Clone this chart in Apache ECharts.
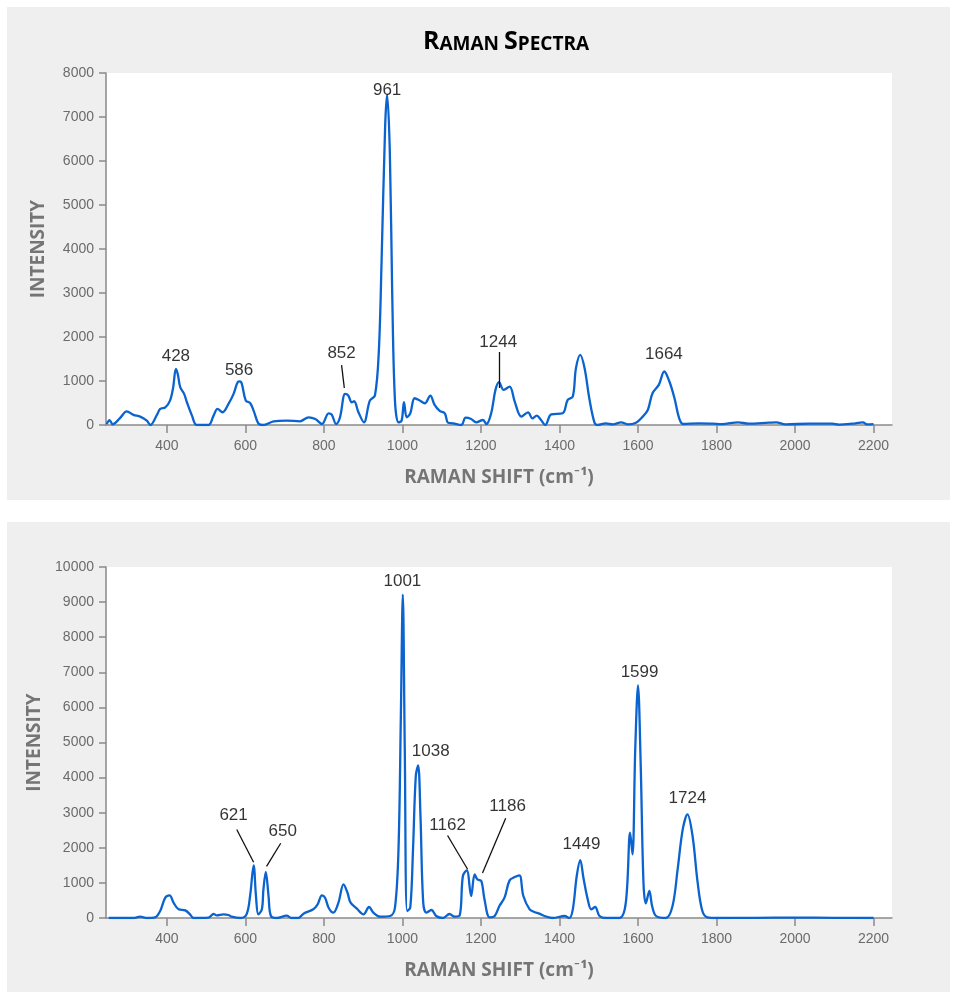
<!DOCTYPE html>
<html>
<head>
<meta charset="utf-8">
<title>Raman Spectra</title>
<script src="https://cdn.jsdelivr.net/npm/echarts@6/dist/echarts.min.js"></script>
<style>
  html, body { margin: 0; padding: 0; background: #fff; }
  #chart { width: 953px; height: 992px; }
</style>
</head>
<body>
<div id="chart"></div>
<script>
// top spectrum
const shiftTop = [247, 254, 262, 280, 298, 315, 332, 349, 358, 375, 383, 396, 408, 416, 423, 428, 434, 444, 451, 464,
  476, 506, 519, 529, 542, 557, 570, 581, 586, 591, 601, 612, 621, 633, 645, 672, 705, 739, 761, 778,
  795, 812, 820, 831, 841, 854, 862, 871, 877, 888, 902, 917, 930, 940, 947, 956, 961, 968, 974, 981,
  990, 998, 1004, 1011, 1020, 1031, 1042, 1057, 1071, 1082, 1095, 1108, 1116, 1129, 1150, 1161, 1175, 1188, 1205, 1214,
  1226, 1237, 1246, 1258, 1273, 1286, 1303, 1320, 1331, 1342, 1353, 1364, 1379, 1408, 1421, 1434, 1442, 1453, 1464, 1476,
  1489, 1497, 1518, 1536, 1557, 1574, 1595, 1612, 1625, 1637, 1653, 1667, 1680, 1693, 1705, 1715, 1756, 1790, 1814, 1855,
  1882, 1933, 1952, 1976, 2036, 2095, 2112, 2146, 2173, 2183, 2200];
const intensityTop = [20, 110, 15, 150, 310, 230, 190, 100, 0, 235, 365, 400, 555, 850, 1277, 1150, 860, 707, 517, 213,
  0, 0, 213, 365, 290, 480, 707, 980, 990, 935, 555, 500, 327, 38, 0, 84, 100, 84, 175, 137,
  23, 266, 235, 23, 175, 707, 670, 517, 540, 290, 60, 555, 670, 1695, 3750, 6790, 7510, 6180, 2990, 555,
  60, 100, 517, 175, 265, 608, 570, 494, 669, 456, 319, 266, 53, 38, 0, 167, 137, 61, 114, 23,
  266, 798, 973, 798, 874, 532, 190, 289, 152, 213, 114, 0, 243, 266, 570, 646, 1292, 1596, 1292, 608,
  61, 0, 38, 15, 61, 15, 53, 190, 342, 722, 912, 1216, 988, 608, 152, 23, 38, 30, 20, 61,
  30, 53, 61, 15, 30, 30, 8, 30, 61, 15, 20];

// bottom spectrum
const shiftBottom = [252, 281, 315, 332, 349, 370, 383, 396, 407, 417, 430, 447, 459, 468, 506, 519, 527, 544, 557, 565,
  587, 603, 612, 621, 627, 633, 642, 646, 652, 659, 665, 680, 705, 718, 735, 748, 773, 784, 795, 803,
  812, 824, 837, 850, 860, 868, 884, 901, 915, 926, 943, 969, 981, 990, 996, 1001, 1006, 1012, 1020, 1027,
  1034, 1040, 1046, 1053, 1061, 1074, 1086, 1103, 1120, 1133, 1146, 1154, 1164, 1175, 1184, 1191, 1201, 1209, 1222, 1235,
  1247, 1260, 1273, 1286, 1298, 1308, 1324, 1336, 1349, 1362, 1383, 1413, 1425, 1434, 1444, 1453, 1461, 1472, 1481, 1491,
  1502, 1519, 1553, 1569, 1580, 1586, 1593, 1600, 1607, 1614, 1620, 1629, 1636, 1646, 1671, 1688, 1701, 1714, 1726, 1739,
  1752, 1764, 1777, 1800, 1900, 2000, 2100, 2200];
const intensityBottom = [0, 0, 0, 38, 0, 19, 200, 579, 645, 437, 247, 218, 104, 0, 10, 114, 76, 104, 85, 38,
  0, 104, 626, 1500, 626, 104, 247, 816, 1310, 626, 57, 0, 66, 0, 0, 123, 247, 389, 645, 579,
  294, 152, 437, 958, 721, 437, 266, 104, 313, 152, 38, 57, 294, 1955, 5750, 9215, 4800, 200, 294, 1955,
  4040, 4346, 2900, 437, 152, 228, 57, 0, 114, 38, 76, 1196, 1357, 626, 1243, 1100, 1053, 531, 19, 57,
  342, 579, 1072, 1167, 1215, 626, 247, 171, 123, 57, 0, 57, 0, 247, 1196, 1650, 1148, 531, 247, 313,
  57, 0, 0, 437, 2430, 1812, 4800, 6624, 4327, 1006, 418, 769, 342, 57, 0, 342, 1386, 2524, 2951, 2335,
  1006, 200, 19, 0, 5, 10, 5, 0];

// peak labels: text, and the point (shift, intensity) the text is centred on
const peakTextTop = ['428', '586', '852', '961', '1244', '1664'];
const peakXTop = [423, 584, 845, 961, 1244, 1666];
const peakYTop = [1570, 1250, 1640, 7610, 1880, 1610];
// leader lines [x1, y1, x2, y2]
const leadersTop = [[845, 1360, 852, 840], [1247, 1660, 1247, 840]];

const peakTextBottom = ['621', '650', '1001', '1038', '1162', '1186', '1449', '1599', '1724'];
const peakXBottom = [570, 695, 1000, 1072, 1115, 1268, 1456, 1604, 1726];
const peakYBottom = [2920, 2470, 9600, 4745, 2640, 3180, 2100, 6990, 3400];
const leadersBottom = [[578, 2520, 621, 1590], [690, 2130, 654, 1470], [1115, 2350, 1166, 1390], [1263, 2840, 1204, 1280]];

const xTicks = [400, 600, 800, 1000, 1200, 1400, 1600, 1800, 2000, 2200];

const pairs = (xs, ys) => xs.map((x, i) => [x, ys[i]]);

const AXIS_GREY = '#8a8a8a';
const LABEL_GREY = '#6b6b6b';
const NAME_GREY = '#757575';
const LINE_BLUE = '#0a63cf';
const PANEL = '#efefef';
const NUM_FONT = '"Liberation Sans", Arial, sans-serif';
const NAME_FONT = '"Open Sans", Lato, sans-serif';
const TITLE_FONT = '"Open Sans", Lato, sans-serif';

const makeX = (gridIndex) => ({
  type: 'value',
  gridIndex: gridIndex,
  min: 245,
  max: 2247,
  axisLine: { show: true, onZero: false, lineStyle: { color: AXIS_GREY, width: 1.5 } },
  axisTick: { show: true, customValues: xTicks, length: 8, lineStyle: { color: AXIS_GREY, width: 1.5 } },
  axisLabel: {
    customValues: xTicks, margin: 14, color: LABEL_GREY, fontSize: 14, fontFamily: NUM_FONT,
    formatter: (v) => String(v),
  },
  splitLine: { show: false },
  name: 'RAMAN SHIFT (cm\u207B\u00B9)',
  nameLocation: 'middle',
  nameGap: 43,
  nameTextStyle: { color: NAME_GREY, fontSize: 19, fontWeight: 'bold', fontFamily: NAME_FONT },
});

const makeY = (gridIndex, max) => ({
  type: 'value',
  gridIndex: gridIndex,
  min: 0,
  max: max,
  interval: 1000,
  axisLine: { show: true, lineStyle: { color: AXIS_GREY, width: 1.5 } },
  axisTick: { show: true, length: 7, lineStyle: { color: AXIS_GREY, width: 1.5 } },
  axisLabel: { margin: 12, color: LABEL_GREY, fontSize: 14, fontFamily: NUM_FONT, formatter: (v) => String(v) },
  splitLine: { show: false },
  name: 'INTENSITY',
  nameLocation: 'middle',
  nameGap: 58,
  nameTextStyle: { color: NAME_GREY, fontSize: 19, fontWeight: 'bold', fontFamily: NAME_FONT },
});

const spectrum = (idx, xs, ys) => ({
  type: 'line',
  xAxisIndex: idx,
  yAxisIndex: idx,
  data: pairs(xs, ys),
  showSymbol: false,
  smooth: 0.35,
  silent: true,
  z: 3,
  lineStyle: { color: LINE_BLUE, width: 2.3 },
});

const peakLabels = (idx, texts, xs, ys) => ({
  type: 'scatter',
  xAxisIndex: idx,
  yAxisIndex: idx,
  symbolSize: 1,
  silent: true,
  itemStyle: { color: 'rgba(0,0,0,0)' },
  data: texts.map((t, i) => [xs[i], ys[i], t]),
  label: {
    show: true,
    position: 'inside',
    formatter: (p) => p.value[2],
    color: '#000',
    fontSize: 17,
    fontFamily: NUM_FONT,
  },
  z: 5,
});

const leaderLines = (idx, segs) => ({
  type: 'lines',
  coordinateSystem: 'cartesian2d',
  xAxisIndex: idx,
  yAxisIndex: idx,
  silent: true,
  data: segs.map((s) => ({ coords: [[s[0], s[1]], [s[2], s[3]]] })),
  lineStyle: { color: '#111', width: 1.3, opacity: 1 },
  z: 4,
});

const chart = echarts.init(document.getElementById('chart'), null, { renderer: 'canvas' });

chart.setOption({
  animation: false,
  backgroundColor: '#fff',
  // grey panels behind each plot
  graphic: [
    { type: 'rect', z: -10, shape: { x: 7, y: 7, width: 943, height: 493 }, style: { fill: PANEL } },
    { type: 'rect', z: -10, shape: { x: 7, y: 522, width: 943, height: 470 }, style: { fill: PANEL } },
  ],
  title: {
    text: '{big|R}{small|AMAN} {big|S}{small|PECTRA}',
    left: 501,
    top: 24,
    textAlign: 'center',
    textStyle: {
      fontSize: 19,
      fontWeight: 'bold',
      fontFamily: TITLE_FONT,
      color: '#000',
      rich: {
        big: { fontSize: 25, fontWeight: 'bold', fontFamily: TITLE_FONT, color: '#000', verticalAlign: 'bottom' },
        small: { fontSize: 19, fontWeight: 'bold', fontFamily: TITLE_FONT, color: '#000', verticalAlign: 'bottom' },
      },
    },
  },
  grid: [
    { left: 106, top: 73, width: 786, height: 352, show: true, backgroundColor: '#fff', borderWidth: 0 },
    { left: 106, top: 567, width: 786, height: 351, show: true, backgroundColor: '#fff', borderWidth: 0 },
  ],
  xAxis: [makeX(0), makeX(1)],
  yAxis: [makeY(0, 8000), makeY(1, 10000)],
  series: [
    spectrum(0, shiftTop, intensityTop),
    spectrum(1, shiftBottom, intensityBottom),
    peakLabels(0, peakTextTop, peakXTop, peakYTop),
    peakLabels(1, peakTextBottom, peakXBottom, peakYBottom),
    leaderLines(0, leadersTop),
    leaderLines(1, leadersBottom),
  ],
});
</script>
</body>
</html>
